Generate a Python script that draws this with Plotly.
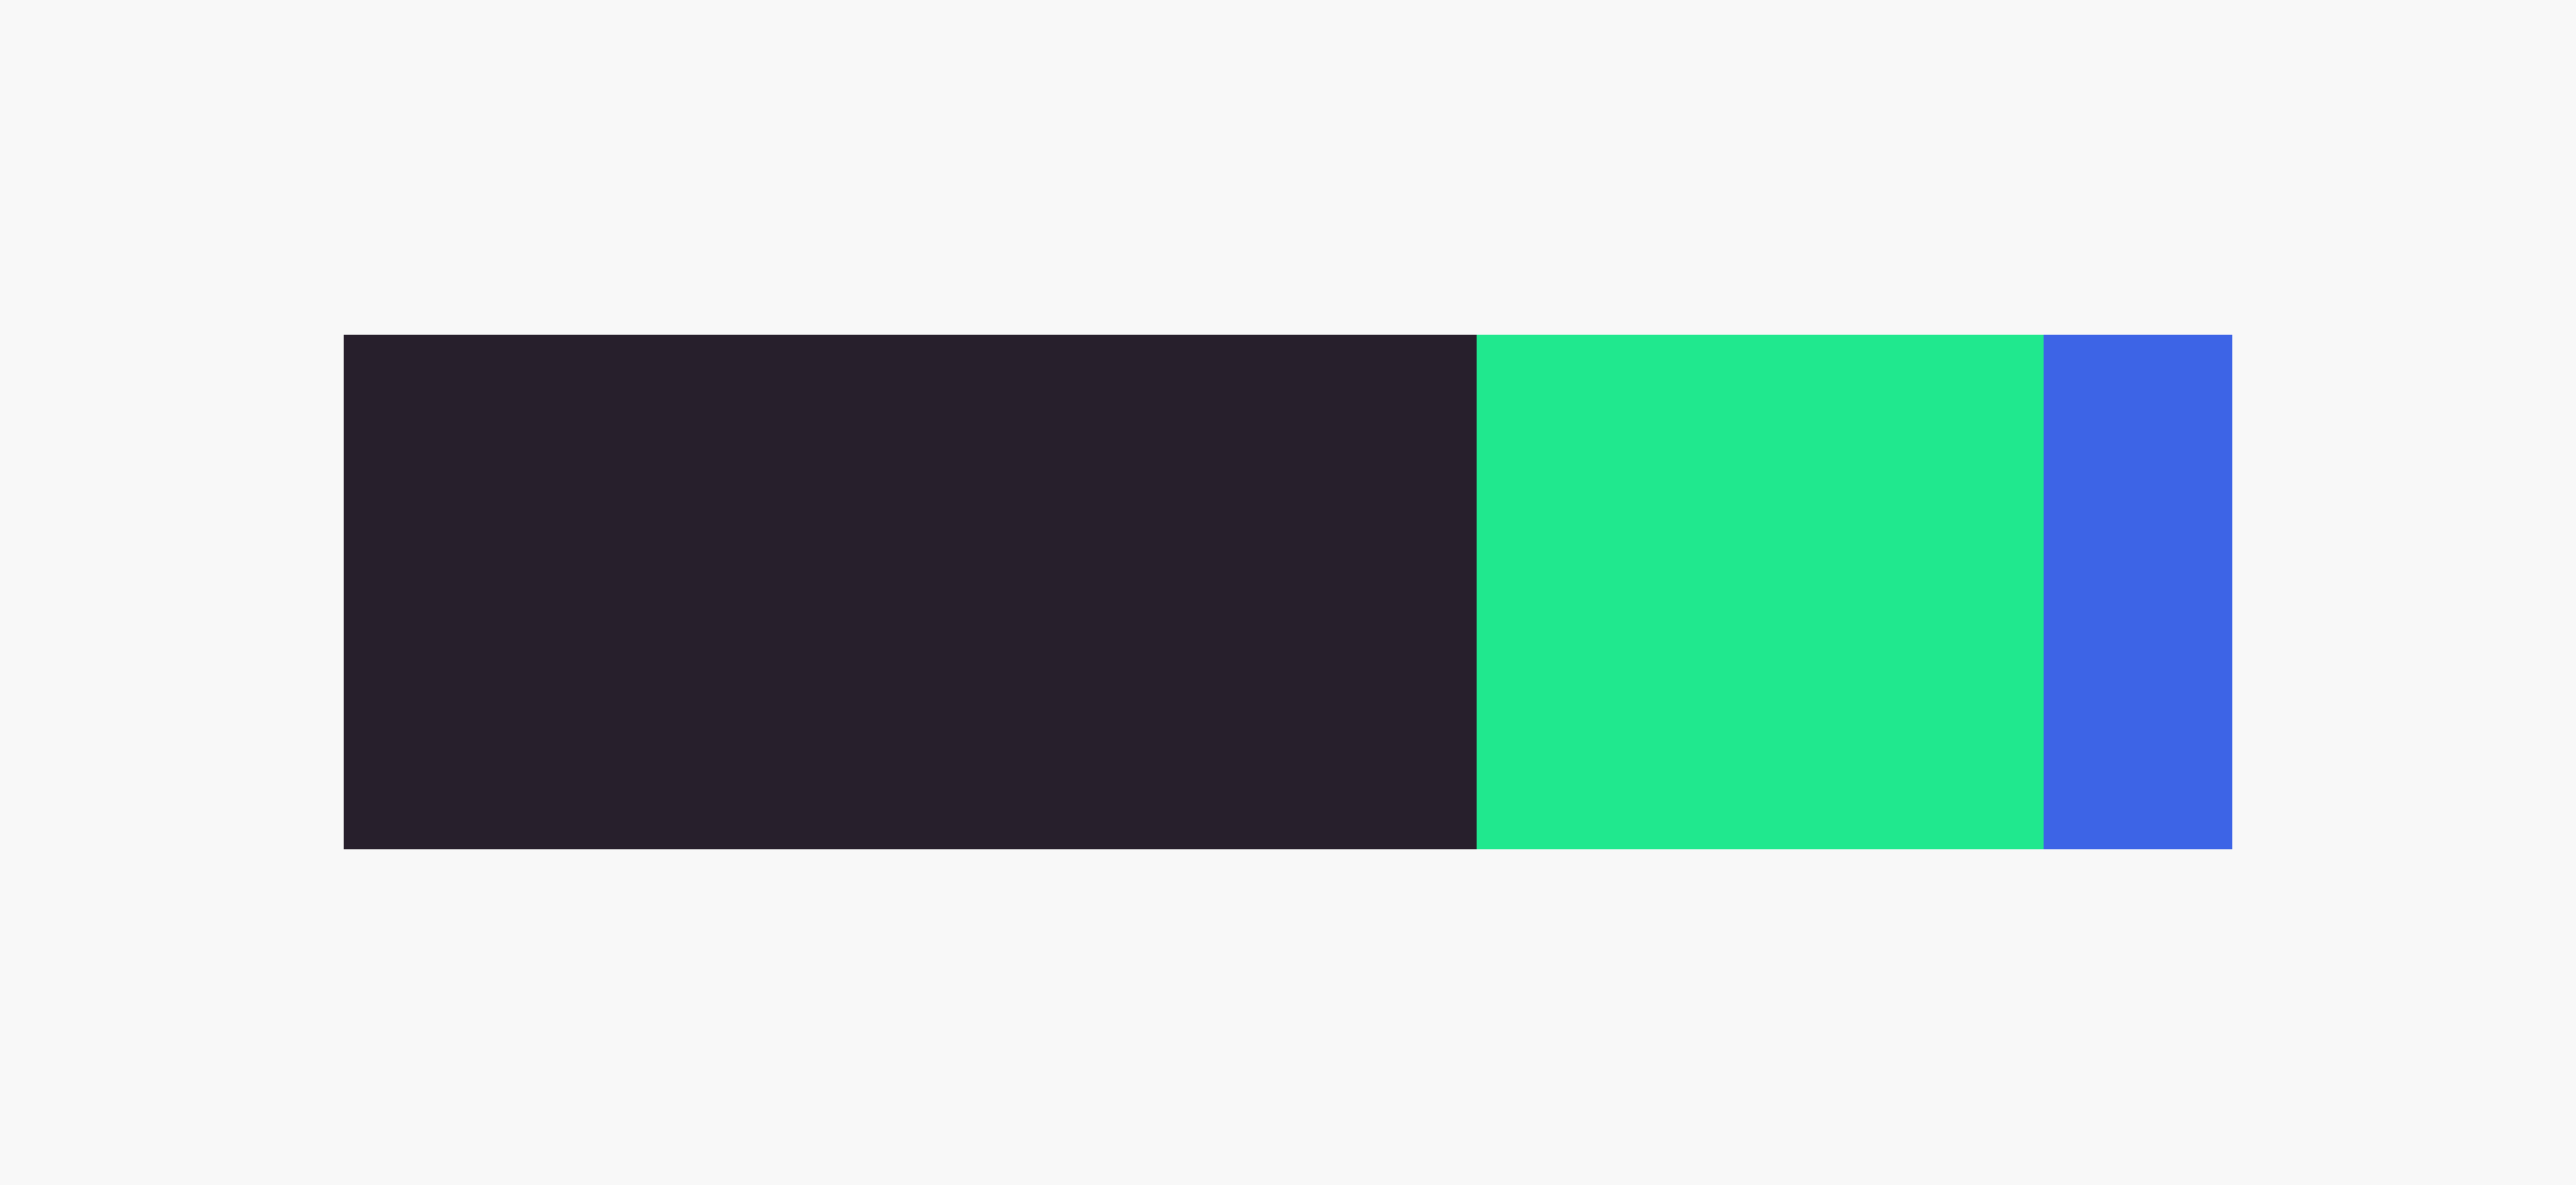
import plotly.graph_objects as go

# Data
segments = ["Segment A", "Segment B", "Segment C"]
shares = [60, 30, 10]
colors = ["#271f2c", "#20e88e", "#3d64e6"]
category = ["Total"]

fig = go.Figure()
for name, val, col in zip(segments, shares, colors):
    fig.add_trace(go.Bar(
        y=category, x=[val], name=name, orientation="h",
        width=1, marker=dict(color=col, line=dict(width=0)),
        hoverinfo="name+x",
    ))

fig.update_layout(
    barmode="stack",
    bargap=0,
    width=2608, height=1200,
    margin=dict(l=348, r=348, t=339, b=340),
    paper_bgcolor="#f8f8f8",
    plot_bgcolor="#f8f8f8",
    showlegend=False,
    xaxis=dict(range=[0, sum(shares)], visible=False, fixedrange=True),
    yaxis=dict(range=[-0.5, 0.5], visible=False, fixedrange=True),
)

# remove the default page margin so the figure fills the window
fig.write_html(
    "out.html",
    config={"displayModeBar": False},
    post_script="document.body.style.margin='0';document.body.style.background='#f8f8f8';document.body.style.overflow='hidden';",
)
